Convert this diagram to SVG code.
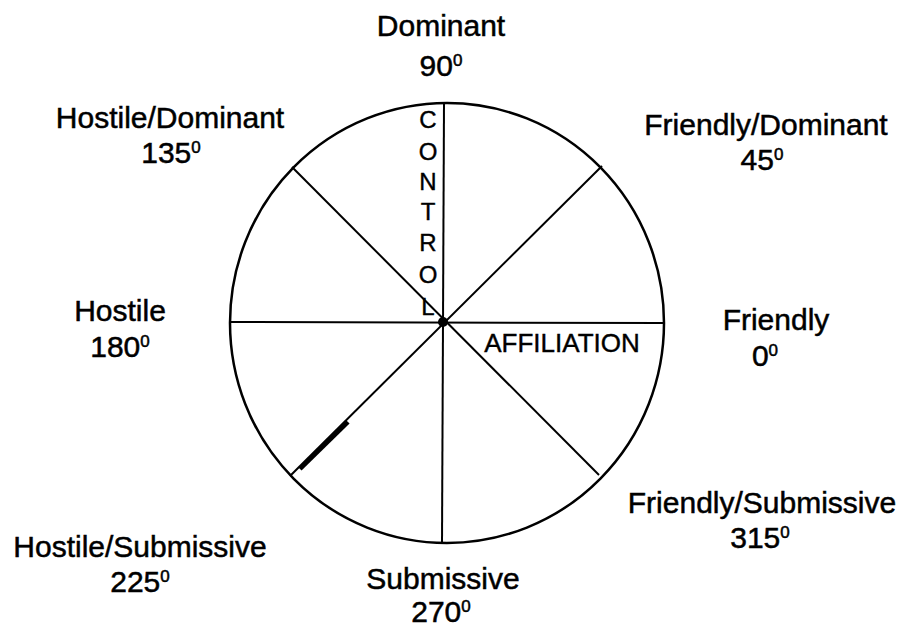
<svg xmlns="http://www.w3.org/2000/svg" width="911" height="629" viewBox="0 0 911 629">
<style>
.lbl{font-family:"Liberation Sans",Arial,sans-serif;font-size:30px;fill:#000;stroke:#000;stroke-width:0.5;text-anchor:middle}
.sup{font-size:17px}
.axis{font-family:"Liberation Sans",Arial,sans-serif;font-size:24px;fill:#000;stroke:#000;stroke-width:0.4;text-anchor:middle}
.ln{stroke:#000;stroke-width:2;fill:none}
</style>
<rect width="911" height="629" fill="#fff"/>
<g id="wheel">
<ellipse cx="447" cy="323" rx="217" ry="220" fill="none" stroke="#000" stroke-width="2.5"/>
</g>
<g id="connectors">
<line class="ln" x1="444" y1="103" x2="442" y2="543"/>
<line class="ln" x1="230" y1="322" x2="664" y2="323"/>
<line class="ln" x1="292" y1="167" x2="599" y2="475"/>
<line class="ln" x1="602" y1="166" x2="290" y2="476"/>
<line x1="300" y1="469" x2="348" y2="422" stroke="#000" stroke-width="4.5"/>
<circle cx="443" cy="322" r="5" fill="#000"/>
</g>
<g id="control">
<text class="axis" x="428" y="128">C</text>
<text class="axis" x="428" y="160">O</text>
<text class="axis" x="428" y="190">N</text>
<text class="axis" x="428" y="220">T</text>
<text class="axis" x="428" y="251">R</text>
<text class="axis" x="428" y="283">O</text>
<text class="axis" x="428" y="315">L</text>
</g>
<g id="affiliation">
<text class="axis" x="562" y="352" style="font-size:26px">AFFILIATION</text>
</g>
<g id="n90">
<text class="lbl" x="441" y="36">Dominant</text>
<text class="lbl" x="441" y="76">90<tspan class="sup" dy="-10">0</tspan></text>
</g>
<g id="n135">
<text class="lbl" x="170" y="128">Hostile/Dominant</text>
<text class="lbl" x="171" y="163">135<tspan class="sup" dy="-10">0</tspan></text>
</g>
<g id="n45">
<text class="lbl" x="766" y="135">Friendly/Dominant</text>
<text class="lbl" x="762" y="170">45<tspan class="sup" dy="-10">0</tspan></text>
</g>
<g id="n180">
<text class="lbl" x="120" y="321">Hostile</text>
<text class="lbl" x="120" y="357">180<tspan class="sup" dy="-10">0</tspan></text>
</g>
<g id="n0">
<text class="lbl" x="776" y="330">Friendly</text>
<text class="lbl" x="765" y="366">0<tspan class="sup" dy="-10">0</tspan></text>
</g>
<g id="n315">
<text class="lbl" x="762" y="513">Friendly/Submissive</text>
<text class="lbl" x="760" y="548">315<tspan class="sup" dy="-10">0</tspan></text>
</g>
<g id="n225">
<text class="lbl" x="140" y="557">Hostile/Submissive</text>
<text class="lbl" x="140" y="592">225<tspan class="sup" dy="-10">0</tspan></text>
</g>
<g id="n270">
<text class="lbl" x="443" y="589">Submissive</text>
<text class="lbl" x="441" y="622">270<tspan class="sup" dy="-10">0</tspan></text>
</g>
</svg>
